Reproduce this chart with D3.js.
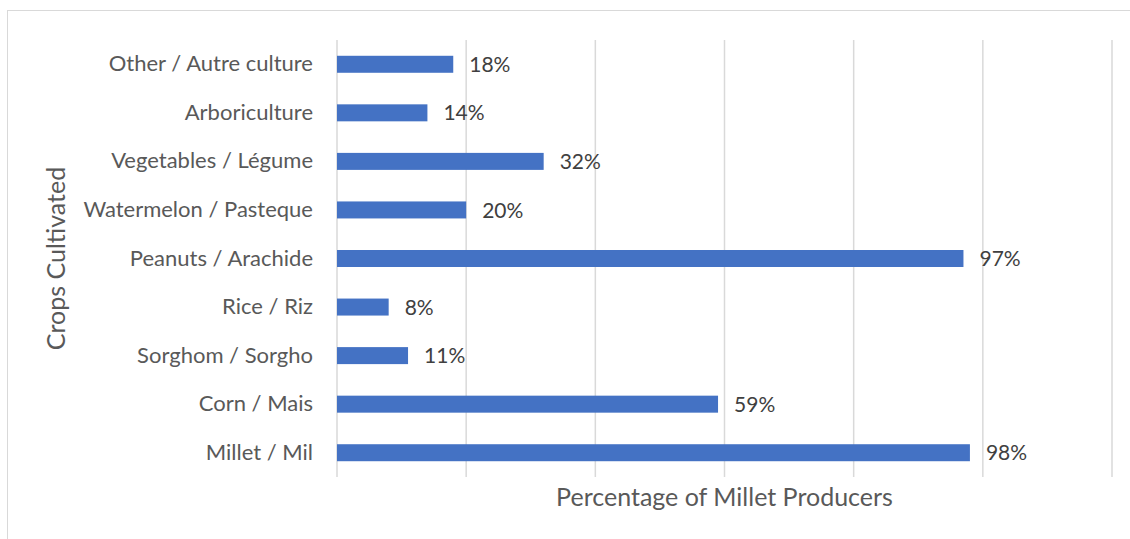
<!DOCTYPE html>
<html>
<head>
<meta charset="utf-8">
<script src="https://cdn.jsdelivr.net/npm/d3@7"></script>
<style>
  html, body { margin: 0; padding: 0; background: #fff; }
  svg { display: block; }
</style>
</head>
<body>
<svg id="chart" width="1130" height="539"></svg>
<script>
// Crops grown by millet producers (share of respondents, %)
const categories = [
  "Other / Autre culture",
  "Arboriculture",
  "Vegetables / Légume",
  "Watermelon / Pasteque",
  "Peanuts / Arachide",
  "Rice / Riz",
  "Sorghom / Sorgho",
  "Corn / Mais",
  "Millet / Mil"
];
const values = [18, 14, 32, 20, 97, 8, 11, 59, 98];
const gridTicks = [0, 20, 40, 60, 80, 100, 120];
const xTitle = "Percentage of Millet Producers";
const yTitle = "Crops Cultivated";

const svg = d3.select("#chart");
const font = "Lato, 'Open Sans', sans-serif";
const textColor = "#595959";

// chart frame
svg.append("rect")
  .attr("x", 7.5).attr("y", 10.5)
  .attr("width", 1140).attr("height", 540)
  .attr("fill", "#fff").attr("stroke", "#d9d9d9").attr("stroke-width", 1);

const plot = { left: 337, right: 1112, top: 40, bottom: 477 };

const x = d3.scaleLinear().domain([0, 120]).range([plot.left, plot.right]);
const y = d3.scaleBand().domain(categories).range([plot.top, plot.bottom]).paddingInner(0.65).paddingOuter(0.325);

// vertical gridlines
svg.append("g").selectAll("line").data(gridTicks).join("line")
  .attr("x1", d => x(d)).attr("x2", d => x(d))
  .attr("y1", plot.top).attr("y2", plot.bottom)
  .attr("stroke", "#d9d9d9").attr("stroke-width", 1.5);

// bars
svg.append("g").selectAll("rect").data(categories).join("rect")
  .attr("x", x(0))
  .attr("y", d => y(d))
  .attr("width", (d, i) => x(values[i]) - x(0))
  .attr("height", y.bandwidth())
  .attr("fill", "#4472c4");

// value labels
svg.append("g").selectAll("text").data(categories).join("text")
  .attr("x", (d, i) => x(values[i]) + 16)
  .attr("y", d => y(d) + y.bandwidth() / 2)
  .attr("dy", "0.36em")
  .attr("font-family", font).attr("font-size", 21)
  .attr("fill", "#404040")
  .text((d, i) => values[i] + "%");

// category axis labels
const yAxis = d3.axisLeft(y).tickSize(0).tickPadding(24);
const gy = svg.append("g").attr("transform", `translate(${plot.left},0)`).call(yAxis);
gy.select(".domain").remove();
gy.selectAll("text")
  .attr("font-family", font).attr("font-size", 22)
  .attr("fill", textColor);

// axis titles
svg.append("text")
  .attr("x", (plot.left + plot.right) / 2).attr("y", 506)
  .attr("text-anchor", "middle")
  .attr("font-family", font).attr("font-size", 25)
  .attr("fill", textColor)
  .text(xTitle);

svg.append("text")
  .attr("transform", `translate(65,${(plot.top + plot.bottom) / 2}) rotate(-90)`)
  .attr("text-anchor", "middle")
  .attr("font-family", font).attr("font-size", 25)
  .attr("fill", textColor)
  .text(yTitle);
</script>
</body>
</html>
